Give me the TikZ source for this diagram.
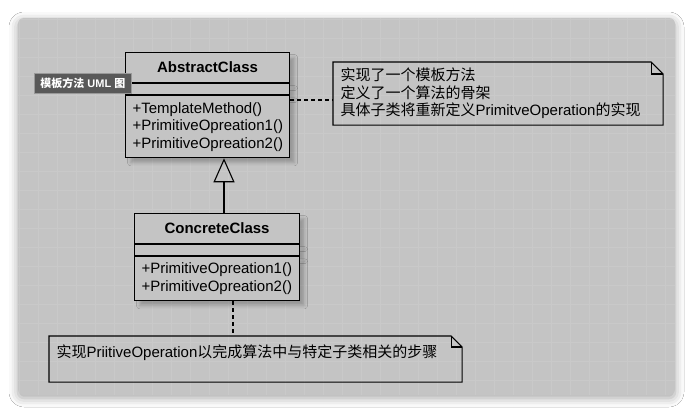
\documentclass[tikz,border=0pt]{standalone}
\usepackage{fontspec}
\setmainfont{Liberation Sans}
\newfontfamily\cjk{Noto Sans CJK SC}
\newcommand\zh[1]{{\cjk #1}}
\usetikzlibrary{positioning,arrows.meta,shadows.blur}
\definecolor{panelgray}{HTML}{C4C4C4}
\definecolor{gridgray}{HTML}{C9C9C9}
\definecolor{taggray}{HTML}{595959}
\newcommand\notefold[2]{%
  \draw (#1.north west) -- ([xshift=-#2]#1.north east) -- ([yshift=-#2]#1.north east)
    -- (#1.south east) -- (#1.south west) -- cycle;
  \draw ([xshift=-#2]#1.north east) |- ([yshift=-#2]#1.north east);}
\tikzset{
  uml font/.style={font=\fontsize{15pt}{17.5pt}\selectfont},
  class name/.style={draw, fill=panelgray, font=\fontsize{15pt}{17.5pt}\selectfont\bfseries,
    minimum height=30pt, inner sep=0pt,
    blur shadow={shadow xshift=5pt, shadow yshift=-5pt, shadow blur radius=3pt, shadow opacity=22}},
  class attr/.style={draw, fill=panelgray, minimum height=11pt, inner sep=0pt,
    blur shadow={shadow xshift=5pt, shadow yshift=-5pt, shadow blur radius=3pt, shadow opacity=22}},
  class ops/.style={draw, fill=panelgray, uml font, align=left, inner xsep=7pt, inner ysep=0pt,
    blur shadow={shadow xshift=5pt, shadow yshift=-5pt, shadow blur radius=3pt, shadow opacity=22}},
  note box/.style={uml font, align=left, inner xsep=7pt, inner ysep=0pt},
  note link/.style={dash pattern=on 4pt off 3pt},
}
\begin{document}
\begin{tikzpicture}[x=1pt, y=-1pt, line width=1.1pt]
  \useasboundingbox (0,0) rectangle (693,413);

  % panel
  \fill[white] (0,0) rectangle (693,413);
  \fill[panelgray, rounded corners=6pt,
    blur shadow={shadow xshift=0pt, shadow yshift=-3pt, shadow blur radius=9pt, shadow opacity=35}]
    (18,18) rectangle (675,395);
  \begin{scope}
    \clip[rounded corners=6pt] (18,18) rectangle (675,395);
    \draw[gridgray, line width=0.5pt, step=19pt] (18,18) grid (675,395);
  \end{scope}

  % AbstractClass
  \node[class name, minimum width=164pt, anchor=north west] (abs) at (125,52) {AbstractClass};
  \node[class attr, minimum width=164pt, below=0pt of abs] (absattr) {};
  \node[class ops, text width=150pt, minimum height=62pt, below=0pt of absattr] (absops)
    {+TemplateMethod()\\+PrimitiveOpreation1()\\+PrimitiveOpreation2()};

  % ConcreteClass
  \node[class name, minimum width=165pt, anchor=north west] (conc) at (134,213) {ConcreteClass};
  \node[class attr, minimum width=165pt, below=0pt of conc] (concattr) {};
  \node[class ops, text width=151pt, minimum height=44pt, below=0pt of concattr] (concops)
    {+PrimitiveOpreation1()\\+PrimitiveOpreation2()};

  % notes
  \node[note box, text width=315pt, minimum height=62pt, anchor=north west] (note1) at (333,62)
    {\zh{实现了一个模板方法}\\\zh{定义了一个算法的骨架}\\\zh{具体子类将重新定义}PrimitveOperation\zh{的实现}};
  \notefold{note1}{12pt}
  \node[note box, text width=398pt, text height=21pt, text depth=24pt, anchor=north west] (note2) at (49,336)
    {\zh{实现}PriitiveOperation\zh{以完成算法中与特定子类相关的步骤}};
  \notefold{note2}{11pt}

  % connectors
  \coordinate (inh) at (224,0);
  \draw[-{Triangle[open, length=24pt, width=21pt]}] (conc.north -| inh) -- (absops.south -| inh);
  \coordinate (link1) at (0,100);
  \draw[note link] (absops.east |- link1) -- (note1.west |- link1);
  \coordinate (link2) at (233,0);
  \draw[note link] (concops.south -| link2) -- (note2.north -| link2);

  % tag
  \node[fill=taggray, draw=gray!80, line width=0.8pt, text=white, minimum width=97pt, minimum height=20pt,
    inner sep=0pt, font=\fontsize{11pt}{13pt}\selectfont\bfseries, anchor=north west] (tag) at (34,73)
    {\zh{\bfseries 模板方法} UML \zh{\bfseries 图}};
\end{tikzpicture}
\end{document}
